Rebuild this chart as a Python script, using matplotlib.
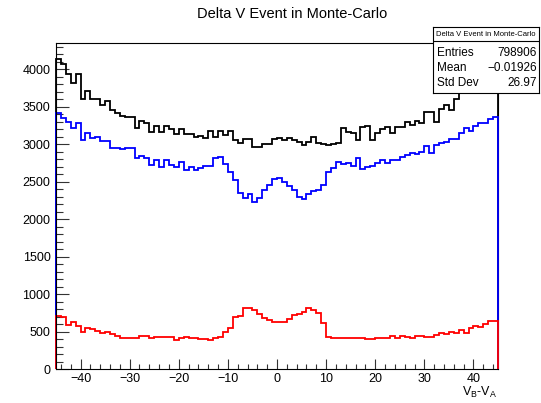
import numpy as np
import matplotlib
matplotlib.use("Agg")
from matplotlib import pyplot as plt
from matplotlib.ticker import MultipleLocator

plt.rcParams["font.family"] = ["Liberation Sans", "DejaVu Sans"]
plt.rcParams["mathtext.fontset"] = "custom"
plt.rcParams["mathtext.rm"] = "Liberation Sans"
plt.rcParams["mathtext.it"] = "Liberation Sans"

# 90 bins of 1 unit between -45 and 45
x_low, x_high, n_bins = -45, 45, 90

# all events
n_total = [4142, 4075, 3942, 3809, 3933, 3600, 3711, 3600, 3600, 3520,
           3573, 3450, 3409, 3380, 3356, 3356, 3209, 3311, 3276, 3164,
           3240, 3164, 3240, 3204, 3129, 3204, 3133, 3133, 3089, 3107,
           3076, 3178, 3089, 3178, 3120, 3178, 3053, 3009, 3067, 3067,
           2964, 2956, 3000, 3000, 3062, 3076, 3053, 3076, 3053, 3031,
           2987, 3031, 3089, 3009, 3000, 2987, 3000, 3009, 3209, 3164,
           3142, 3053, 3231, 3240, 3053, 3142, 3196, 3222, 3142, 3222,
           3231, 3298, 3253, 3311, 3284, 3431, 3431, 3298, 3462, 3520,
           3453, 3596, 3676, 3840, 3880, 3930, 3960, 4010, 4060, 4100]
# blue component
n_blue = [3409, 3342, 3298, 3209, 3276, 3053, 3151, 3076, 3089, 3044,
          3044, 2942, 2942, 2929, 2942, 2942, 2809, 2840, 2809, 2720,
          2787, 2698, 2787, 2720, 2698, 2764, 2653, 2689, 2653, 2676,
          2707, 2707, 2809, 2822, 2733, 2631, 2520, 2342, 2276, 2333,
          2231, 2276, 2387, 2453, 2529, 2542, 2498, 2440, 2387, 2298,
          2262, 2333, 2378, 2387, 2453, 2631, 2676, 2764, 2733, 2751,
          2707, 2809, 2662, 2689, 2707, 2742, 2787, 2751, 2787, 2787,
          2831, 2853, 2884, 2867, 2898, 2973, 2884, 2987, 3018, 3031,
          3062, 3062, 3142, 3209, 3178, 3240, 3284, 3276, 3329, 3356]
# red component
n_red = [711, 700, 590, 631, 573, 498, 542, 529, 507, 476,
         489, 462, 444, 420, 409, 409, 409, 436, 436, 409,
         427, 427, 427, 427, 391, 409, 427, 409, 409, 396,
         400, 382, 409, 430, 489, 542, 698, 711, 809, 809,
         787, 729, 676, 653, 622, 631, 631, 667, 720, 729,
         764, 809, 787, 742, 609, 431, 418, 418, 418, 409,
         418, 409, 409, 396, 396, 409, 409, 418, 444, 418,
         436, 427, 409, 436, 436, 427, 431, 453, 476, 462,
         498, 476, 520, 476, 542, 578, 564, 596, 640, 640]

hist_title = "Delta V Event in Monte-Carlo"
stat_rows = [("Entries", "798906"), ("Mean", "\u22120.01926"), ("Std Dev", "26.97")]

W, H = 541, 403
fig = plt.figure(figsize=(W / 100, H / 100), dpi=100)
ax = fig.add_axes([56 / W, 1 - 369 / H, (498 - 56) / W, (369 - 43) / H])

edges = np.linspace(x_low, x_high, n_bins + 1)
# histograms go on top of the frame (except the y axis), like ROOT does
for counts, color in ((n_total, "black"), (n_blue, "#0000ff"), (n_red, "#ff0000")):
    ax.stairs(counts, edges, baseline=0, color=color, lw=1.3, zorder=3,
              clip_on=False)

ax.set_xlim(x_low, x_high)
ax.set_ylim(0, 1.05 * max(n_total))

ax.xaxis.set_major_locator(MultipleLocator(10))
ax.xaxis.set_minor_locator(MultipleLocator(2))
ax.yaxis.set_major_locator(MultipleLocator(500))
ax.yaxis.set_minor_locator(MultipleLocator(100))
ax.tick_params(axis="both", which="both", direction="in", labelsize=9,
               top=False, right=False, width=0.8, color="#333333")
ax.tick_params(axis="x", which="major", length=7, pad=3)
ax.tick_params(axis="x", which="minor", length=3.5)
ax.tick_params(axis="y", which="major", length=9.4, pad=4)
ax.tick_params(axis="y", which="minor", length=4.7)
for spine in ax.spines.values():
    spine.set_linewidth(0.8)
ax.spines["left"].set_zorder(4)
ax.spines["bottom"].set_zorder(4)

fig.text(292 / W, 1 - 14 / H, hist_title, ha="center", va="center", fontsize=10.5)
fig.text(497 / W, 1 - 392 / H, r"V$_{\mathrm{B}}$-V$_{\mathrm{A}}$",
         ha="right", va="center", fontsize=9)

# statistics box
sx0, sx1, sy0, sy1 = 432.7, 539, 27.3, 92.7
box = fig.add_axes([sx0 / W, 1 - sy1 / H, (sx1 - sx0) / W, (sy1 - sy0) / H])
box.set_xticks([])
box.set_yticks([])
box.set_xlim(0, 1)
box.set_ylim(0, 1)
for spine in box.spines.values():
    spine.set_linewidth(0.8)
box.axhline(0.79, color="black", lw=0.8)
box.text(0.5, 0.895, hist_title, ha="center", va="center", fontsize=5.5)
for i, (name, val) in enumerate(stat_rows):
    y = 0.607 - i * 0.2295
    box.text(0.04, y, name, ha="left", va="center", fontsize=8.5)
    box.text(0.98, y, val, ha="right", va="center", fontsize=8.5)

fig.savefig("out.png", dpi=100)
plt.close("all")
